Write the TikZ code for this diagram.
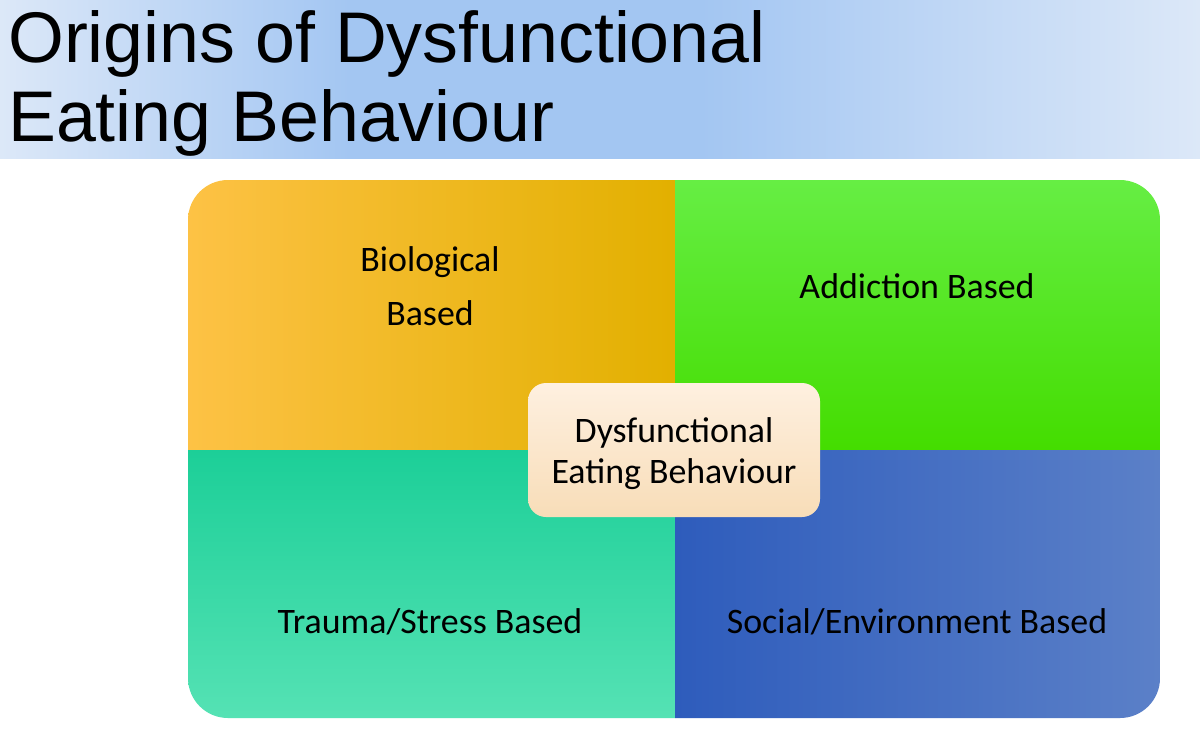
\documentclass[tikz,border=0pt]{standalone}
\usepackage{fontspec}
\setmainfont{Carlito}
\newfontfamily\titlefont{Liberation Sans}
\usetikzlibrary{positioning}
\definecolor{bandlight}{HTML}{DCE8F8}
\definecolor{banddark}{HTML}{A3C6F2}
\definecolor{bioleft}{HTML}{FDC245}
\definecolor{bioright}{HTML}{E2B000}
\definecolor{addtop}{HTML}{66EE44}
\definecolor{addbot}{HTML}{44DD00}
\definecolor{trtop}{HTML}{1CCF98}
\definecolor{trbot}{HTML}{55E2B4}
\definecolor{socleft}{HTML}{2E5CBC}
\definecolor{socright}{HTML}{5B80C8}
\definecolor{coretop}{HTML}{FEF0E0}
\definecolor{corebot}{HTML}{F8DDB8}
\begin{document}
\begin{tikzpicture}[x=0.025cm, y=-0.025cm,
    label/.style={font=\fontsize{25.5}{29}\selectfont, align=center, text=black}]
    \useasboundingbox (0,0) rectangle (1200,744);
    \fill[white] (0,0) rectangle (1200,744);
    % title band
    \shade[left color=bandlight, right color=banddark, middle color=banddark] (0,0) rectangle (700,158);
    \shade[left color=banddark, right color=bandlight] (700,0) rectangle (1200,158);
    \node[anchor=north west, align=left, inner sep=0pt, font=\titlefont\fontsize{51}{56}\selectfont] (title) at (8,10) {Origins of Dysfunctional\\Eating Behaviour};
    % quadrants
    \begin{scope}
        \clip[rounded corners=1cm] (188,180) rectangle (1160,718);
        \shade[left color=bioleft, right color=bioright] (188,180) rectangle (675,450);
        \shade[top color=addtop, bottom color=addbot] (675,180) rectangle (1160,450);
        \shade[top color=trtop, bottom color=trbot] (188,450) rectangle (675,718);
        \shade[left color=socleft, right color=socright] (675,450) rectangle (1160,718);
    \end{scope}
    \node[label] (bio) at (430,286) {Biological\\[9pt]Based};
    \node[label] (addiction) at (917,286) {Addiction Based};
    \node[label] (trauma) at (430,622) {Trauma/Stress Based};
    \node[label] (social) at (917,622) {Social/Environment Based};
    % centre
    \shade[top color=coretop, bottom color=corebot, rounded corners=0.45cm] (528,383) rectangle (820,517);
    \node[label] (core) at (674,454) {Dysfunctional\\Eating Behaviour};
\end{tikzpicture}
\end{document}
